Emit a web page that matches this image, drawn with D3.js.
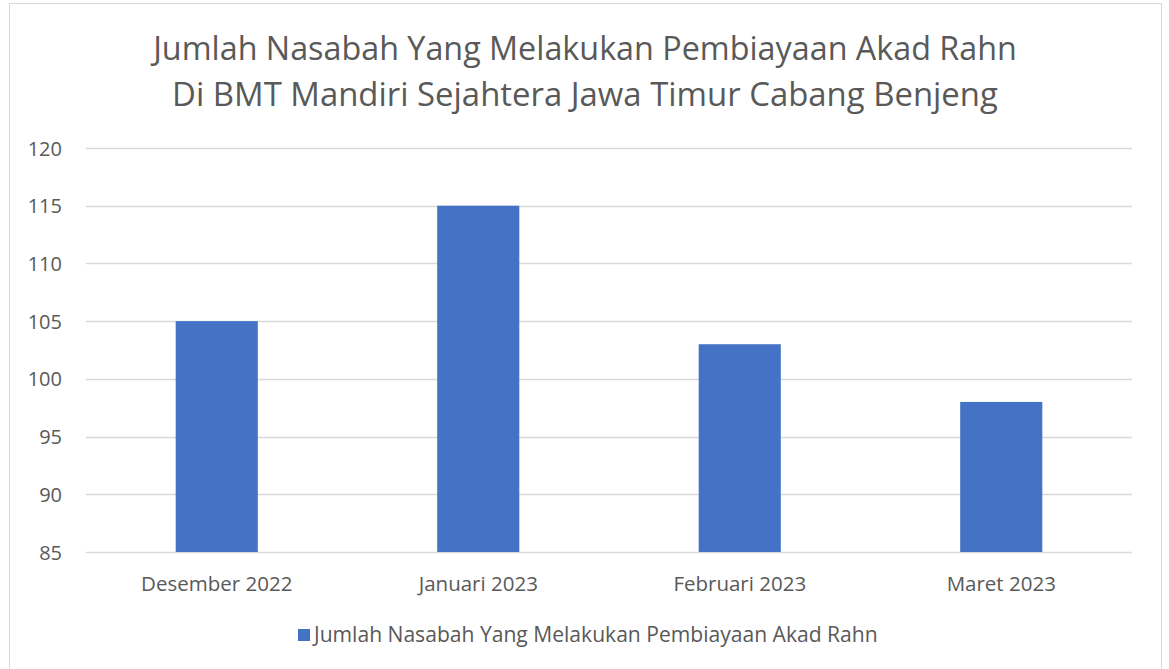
<!DOCTYPE html>
<html><head><meta charset="utf-8">
<script src="https://cdn.jsdelivr.net/npm/d3@7"></script>
<style>body{margin:0;background:#fff}svg{display:block}text{font-family:"Open Sans","Noto Sans",sans-serif;fill:#595959}</style>
</head><body>
<script>
const categories = ["Desember 2022","Januari 2023","Februari 2023","Maret 2023"];
const values = [105,115,103,98];
const yTicks = [85,90,95,100,105,110,115,120];
const titleLines = ["Jumlah Nasabah Yang Melakukan Pembiayaan Akad Rahn","Di BMT Mandiri Sejahtera Jawa Timur Cabang Benjeng"];
const seriesName = "Jumlah Nasabah Yang Melakukan Pembiayaan Akad Rahn";

const W=1169,H=669;
const svg=d3.select("body").append("svg").attr("width",W).attr("height",H);
svg.append("rect").attr("x",9.5).attr("y",3.5).attr("width",1152).attr("height",680).attr("fill","#fff").attr("stroke","#d9d9d9");

const m={l:86,r:1132,t:148,b:552};
const x=d3.scaleBand().domain(categories).range([m.l,m.r]).paddingInner(0.686).paddingOuter(0.343);
const y=d3.scaleLinear().domain([85,120]).range([m.b,m.t]);

function fit(sel,target){const n=sel.node();let fs=parseFloat(sel.attr("font-size"));const w=n.getComputedTextLength();sel.attr("font-size",fs*target/w);}

// grid
svg.append("g").selectAll("line").data(yTicks).join("line")
 .attr("x1",m.l).attr("x2",m.r).attr("y1",d=>Math.round(y(d))+0.5).attr("y2",d=>Math.round(y(d))+0.5)
 .attr("stroke","#d9d9d9").attr("stroke-width",1.3);

// y labels
const yAxis=d3.axisLeft(y).tickValues(yTicks).tickSize(0).tickPadding(0);
const ga=svg.append("g").attr("transform",`translate(62,0)`).call(yAxis);
ga.select(".domain").remove();
ga.selectAll("text").attr("font-size",20).attr("fill","#595959").attr("font-family","'Open Sans',sans-serif").attr("dy","0.35em");

// bars
svg.append("g").selectAll("rect").data(values).join("rect")
 .attr("x",(d,i)=>x(categories[i])).attr("width",x.bandwidth())
 .attr("y",d=>y(d)).attr("height",d=>y(85)-y(d)).attr("fill","#4472c4");

// x labels
const xAxis=d3.axisBottom(x).tickSize(0).tickPadding(0);
const gx=svg.append("g").attr("transform",`translate(0,${m.b})`).call(xAxis);
gx.select(".domain").remove();
gx.selectAll("text").attr("font-size",20.5).attr("fill","#595959").attr("font-family","'Open Sans',sans-serif").attr("dy",null).attr("y",39);

// title
const t1=svg.append("text").attr("x",585).attr("y",60).attr("text-anchor","middle").attr("font-size",31).text(titleLines[0]);
fit(t1,864);
const t2=svg.append("text").attr("x",585).attr("y",106).attr("text-anchor","middle").attr("font-size",31).text(titleLines[1]);
fit(t2,826);

// legend
svg.append("rect").attr("x",298).attr("y",629).attr("width",12).attr("height",12).attr("fill","#4472c4");
const lt=svg.append("text").attr("x",314).attr("y",642).attr("font-size",18).text(seriesName);
fit(lt,564);
</script>
</body></html>
